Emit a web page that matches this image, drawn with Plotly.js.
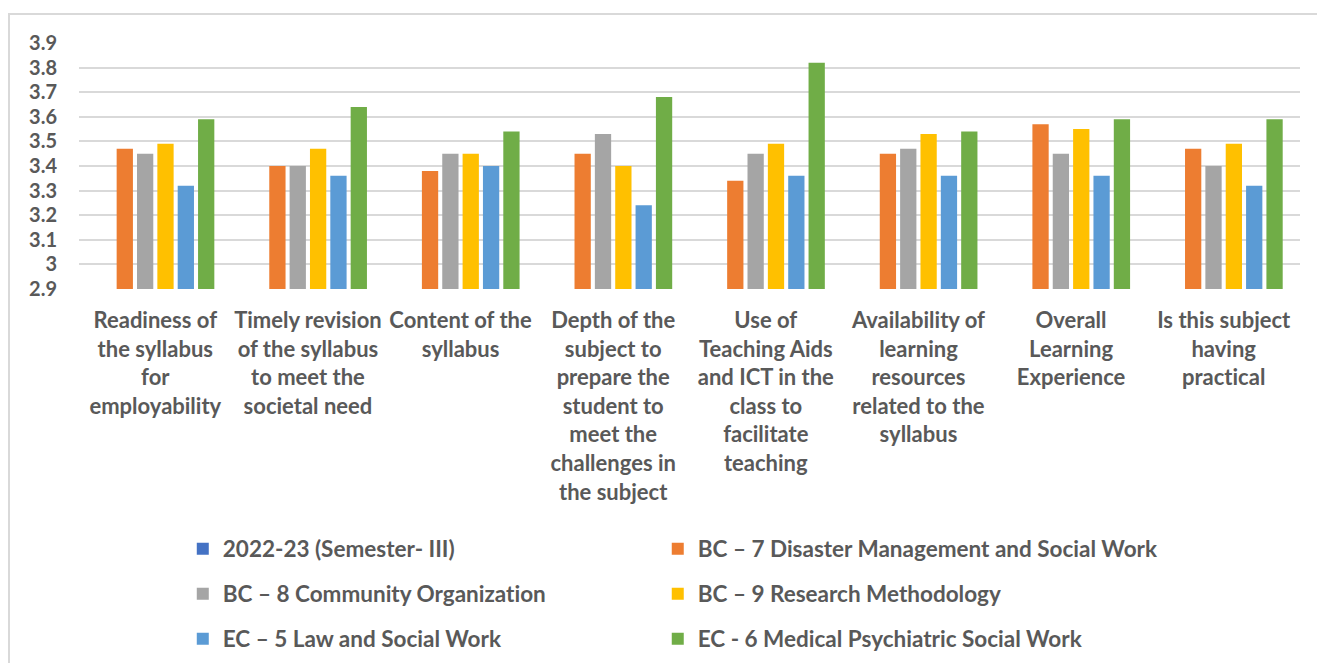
<!DOCTYPE html>
<html>
<head>
<meta charset="utf-8">
<script src="https://cdn.plot.ly/plotly-3.0.1.min.js"></script>
<style>
  html, body { margin: 0; padding: 0; background: #fff; overflow: hidden; }
  #frame { position: absolute; left: 8px; top: 13px; width: 1400px; height: 700px;
           border-top: 2px solid #d9d9d9; border-left: 2px solid #d9d9d9; box-sizing: border-box; }
  #chart { position: absolute; left: 0; top: 0; width: 1317px; height: 663px; }
  svg text { font-variant-ligatures: none !important; font-feature-settings: "liga" 0, "clig" 0, "dlig" 0, "calt" 0 !important; }
</style>
</head>
<body>
<div id="frame"></div>
<div id="chart"></div>
<script>
const categories = [
  "Readiness of<br>the syllabus<br>for<br>employability",
  "Timely revision<br>of the syllabus<br>to meet the<br>societal need",
  "Content of the<br>syllabus",
  "Depth of the<br>subject to<br>prepare the<br>student to<br>meet the<br>challenges in<br>the subject",
  "Use of<br>Teaching Aids<br>and ICT in the<br>class to<br>facilitate<br>teaching",
  "Availability of<br>learning<br>resources<br>related to the<br>syllabus",
  "Overall<br>Learning<br>Experience",
  "Is this subject<br>having<br>practical"
];
const seriesNames = [
  "2022-23 (Semester- III)",
  "BC – 7 Disaster Management and Social Work",
  "BC – 8 Community Organization",
  "BC – 9 Research Methodology",
  "EC – 5 Law and Social Work",
  "EC - 6 Medical Psychiatric Social Work"
];
const sem2022_23 = [0, 0, 0, 0, 0, 0, 0, 0];
const bc7Disaster = [3.47, 3.40, 3.38, 3.45, 3.34, 3.45, 3.57, 3.47];
const bc8Community = [3.45, 3.40, 3.45, 3.53, 3.45, 3.47, 3.45, 3.40];
const bc9Research = [3.49, 3.47, 3.45, 3.40, 3.49, 3.53, 3.55, 3.49];
const ec5Law = [3.32, 3.36, 3.40, 3.24, 3.36, 3.36, 3.36, 3.32];
const ec6Medical = [3.59, 3.64, 3.54, 3.68, 3.82, 3.54, 3.59, 3.59];
const yTickVals = [2.9, 3.0, 3.1, 3.2, 3.3, 3.4, 3.5, 3.6, 3.7, 3.8, 3.9];
const yTickLabels = ["2.9", "3", "3.1", "3.2", "3.3", "3.4", "3.5", "3.6", "3.7", "3.8", "3.9"];

const seriesValues = [sem2022_23, bc7Disaster, bc8Community, bc9Research, ec5Law, ec6Medical];
const colors = ["#4472C4", "#ED7D31", "#A5A5A5", "#FFC000", "#5B9BD5", "#70AD47"];
const legendIds = ["legend", "legend2", "legend3", "legend4", "legend5", "legend6"];

const traces = seriesValues.map((vals, i) => ({
  type: "bar",
  name: seriesNames[i],
  x: categories,
  y: vals,
  marker: { color: colors[i], line: { width: 0 } },
  legend: legendIds[i],
  hoverinfo: "x+y+name"
}));

const FONT = "Lato, 'Open Sans', sans-serif";
const legendBase = {
  orientation: "h",
  xanchor: "left",
  yanchor: "middle",
  font: { family: FONT, size: 22.5, color: "#595959", weight: 700 },
  bgcolor: "rgba(0,0,0,0)",
  traceorder: "normal"
};
const legCol = [0.085, 0.474];
const legRow = [-1.057, -1.240, -1.423];
function leg(c, r) { return Object.assign({}, legendBase, { x: legCol[c], y: legRow[r] }); }

const layout = {
  width: 1317,
  height: 663,
  margin: { l: 79, r: 17, t: 43, b: 374, pad: 0, autoexpand: false },
  paper_bgcolor: "rgba(0,0,0,0)",
  plot_bgcolor: "rgba(0,0,0,0)",
  barmode: "group",
  bargap: 0.2,
  bargroupgap: 0.2,
  showlegend: true,
  font: { family: FONT, color: "#595959" },
  xaxis: {
    type: "category",
    tickfont: { family: FONT, size: 22, color: "#595959", weight: 700 },
    ticks: "",
    showgrid: false,
    showline: false,
    ticklabelstandoff: 16,
    tickangle: 0,
    automargin: false,
    fixedrange: true
  },
  yaxis: {
    range: [2.9, 3.9],
    tickmode: "array",
    tickvals: yTickVals,
    ticktext: yTickLabels,
    tickfont: { family: FONT, size: 20, color: "#595959", weight: 700 },
    showgrid: true,
    gridcolor: "#d9d9d9",
    gridwidth: 2,
    zeroline: false,
    showline: false,
    ticks: "",
    ticklabelstandoff: 21,
    automargin: false,
    fixedrange: true
  },
  legend: leg(0, 0),
  legend2: leg(1, 0),
  legend3: leg(0, 1),
  legend4: leg(1, 1),
  legend5: leg(0, 2),
  legend6: leg(1, 2)
};

Plotly.newPlot("chart", traces, layout, { displayModeBar: false, staticPlot: true });
</script>
</body>
</html>
